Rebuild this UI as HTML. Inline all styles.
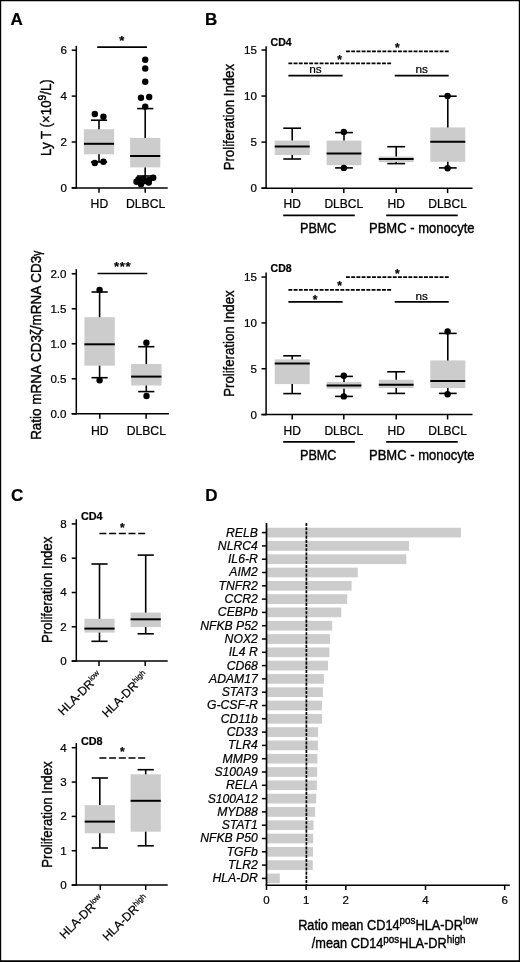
<!DOCTYPE html>
<html><head><meta charset="utf-8"><title>Figure</title>
<style>
html,body{margin:0;padding:0;background:#fff;}
body{width:520px;height:962px;overflow:hidden;position:relative;}
text{stroke:#000;stroke-width:0.22px;}
svg{display:block;position:absolute;left:0;top:0;font-family:'Liberation Sans', sans-serif;fill:#000;}
</style></head><body>
<svg width="520" height="962" viewBox="0 0 520 962" font-family="'Liberation Sans', sans-serif">
<rect x="0" y="0" width="520" height="962" fill="#fff"/>
<text transform="translate(10.60 25.40)" font-size="17" text-anchor="start" font-weight="bold" font-style="normal">A</text>
<text transform="translate(205.10 25.20)" font-size="17" text-anchor="start" font-weight="bold" font-style="normal">B</text>
<text transform="translate(10.90 501.10)" font-size="17" text-anchor="start" font-weight="bold" font-style="normal">C</text>
<text transform="translate(205.20 501.20)" font-size="17" text-anchor="start" font-weight="bold" font-style="normal">D</text>
<line x1="76.30" y1="45.80" x2="76.30" y2="188.65" stroke="#000" stroke-width="1.5"/>
<line x1="71.70" y1="187.90" x2="76.30" y2="187.90" stroke="#000" stroke-width="1.5"/>
<text transform="translate(67.00 191.80)" font-size="11.6" text-anchor="end" font-weight="normal" font-style="normal">0</text>
<line x1="71.70" y1="142.00" x2="76.30" y2="142.00" stroke="#000" stroke-width="1.5"/>
<text transform="translate(67.00 145.90)" font-size="11.6" text-anchor="end" font-weight="normal" font-style="normal">2</text>
<line x1="71.70" y1="96.10" x2="76.30" y2="96.10" stroke="#000" stroke-width="1.5"/>
<text transform="translate(67.00 100.00)" font-size="11.6" text-anchor="end" font-weight="normal" font-style="normal">4</text>
<line x1="71.70" y1="50.20" x2="76.30" y2="50.20" stroke="#000" stroke-width="1.5"/>
<text transform="translate(67.00 54.10)" font-size="11.6" text-anchor="end" font-weight="normal" font-style="normal">6</text>
<line x1="71.70" y1="187.90" x2="167.70" y2="187.90" stroke="#000" stroke-width="1.5"/>
<line x1="99.00" y1="187.90" x2="99.00" y2="192.80" stroke="#000" stroke-width="1.5"/>
<line x1="145.20" y1="187.90" x2="145.20" y2="192.80" stroke="#000" stroke-width="1.5"/>
<text transform="translate(51.30 117.60) rotate(-90) scale(0.882 1)" font-size="15.1" text-anchor="middle" font-weight="normal" font-style="normal" style="stroke-width:0.4px">Ly T (×10<tspan font-size="11.5" dy="-5">9</tspan><tspan dy="5">/L)</tspan></text>
<line x1="97.20" y1="47.10" x2="147.00" y2="47.10" stroke="#000" stroke-width="1.7"/>
<text transform="translate(121.70 45.40)" font-size="13" text-anchor="middle" font-weight="bold" font-style="normal">*</text>
<rect x="83.90" y="129.20" width="30.20" height="25.10" fill="#cccccc"/>
<line x1="99.00" y1="120.20" x2="99.00" y2="129.20" stroke="#000" stroke-width="1.6"/>
<line x1="99.00" y1="154.30" x2="99.00" y2="162.00" stroke="#000" stroke-width="1.6"/>
<line x1="90.90" y1="120.20" x2="107.10" y2="120.20" stroke="#000" stroke-width="1.6"/>
<line x1="90.90" y1="162.00" x2="107.10" y2="162.00" stroke="#000" stroke-width="1.6"/>
<line x1="83.90" y1="143.80" x2="114.10" y2="143.80" stroke="#000" stroke-width="2.0"/>
<circle cx="94.80" cy="114.00" r="3.2" fill="#000"/>
<circle cx="103.40" cy="116.80" r="3.2" fill="#000"/>
<circle cx="94.80" cy="163.00" r="3.2" fill="#000"/>
<circle cx="103.40" cy="161.70" r="3.2" fill="#000"/>
<rect x="130.10" y="137.90" width="30.20" height="29.50" fill="#cccccc"/>
<line x1="145.20" y1="108.60" x2="145.20" y2="137.90" stroke="#000" stroke-width="1.6"/>
<line x1="145.20" y1="167.40" x2="145.20" y2="176.00" stroke="#000" stroke-width="1.6"/>
<line x1="137.10" y1="108.60" x2="153.30" y2="108.60" stroke="#000" stroke-width="1.6"/>
<line x1="137.10" y1="176.00" x2="153.30" y2="176.00" stroke="#000" stroke-width="1.6"/>
<line x1="130.10" y1="156.00" x2="160.30" y2="156.00" stroke="#000" stroke-width="2.0"/>
<circle cx="145.20" cy="59.80" r="3.2" fill="#000"/>
<circle cx="145.20" cy="68.50" r="3.2" fill="#000"/>
<circle cx="145.20" cy="81.70" r="3.2" fill="#000"/>
<circle cx="141.00" cy="97.70" r="3.2" fill="#000"/>
<circle cx="149.20" cy="97.00" r="3.2" fill="#000"/>
<circle cx="145.20" cy="106.60" r="3.2" fill="#000"/>
<circle cx="153.20" cy="177.80" r="3.2" fill="#000"/>
<circle cx="149.00" cy="180.00" r="3.2" fill="#000"/>
<circle cx="143.50" cy="178.80" r="3.2" fill="#000"/>
<circle cx="138.50" cy="179.30" r="3.2" fill="#000"/>
<circle cx="136.50" cy="181.80" r="3.2" fill="#000"/>
<circle cx="148.80" cy="182.50" r="3.2" fill="#000"/>
<circle cx="141.00" cy="184.30" r="3.2" fill="#000"/>
<circle cx="145.00" cy="181.00" r="3.2" fill="#000"/>
<text transform="translate(99.40 207.90)" font-size="12.2" text-anchor="middle" font-weight="normal" font-style="normal">HD</text>
<text transform="translate(145.60 207.90)" font-size="12.2" text-anchor="middle" font-weight="normal" font-style="normal">DLBCL</text>
<line x1="76.30" y1="269.20" x2="76.30" y2="414.55" stroke="#000" stroke-width="1.5"/>
<line x1="71.70" y1="413.80" x2="76.30" y2="413.80" stroke="#000" stroke-width="1.5"/>
<text transform="translate(66.50 417.70)" font-size="11.6" text-anchor="end" font-weight="normal" font-style="normal">0.0</text>
<line x1="71.70" y1="378.80" x2="76.30" y2="378.80" stroke="#000" stroke-width="1.5"/>
<text transform="translate(66.50 382.70)" font-size="11.6" text-anchor="end" font-weight="normal" font-style="normal">0.5</text>
<line x1="71.70" y1="343.80" x2="76.30" y2="343.80" stroke="#000" stroke-width="1.5"/>
<text transform="translate(66.50 347.70)" font-size="11.6" text-anchor="end" font-weight="normal" font-style="normal">1.0</text>
<line x1="71.70" y1="308.80" x2="76.30" y2="308.80" stroke="#000" stroke-width="1.5"/>
<text transform="translate(66.50 312.70)" font-size="11.6" text-anchor="end" font-weight="normal" font-style="normal">1.5</text>
<line x1="71.70" y1="273.80" x2="76.30" y2="273.80" stroke="#000" stroke-width="1.5"/>
<text transform="translate(66.50 277.70)" font-size="11.6" text-anchor="end" font-weight="normal" font-style="normal">2.0</text>
<line x1="71.70" y1="413.80" x2="169.00" y2="413.80" stroke="#000" stroke-width="1.5"/>
<line x1="99.80" y1="413.80" x2="99.80" y2="418.70" stroke="#000" stroke-width="1.5"/>
<line x1="146.10" y1="413.80" x2="146.10" y2="418.70" stroke="#000" stroke-width="1.5"/>
<text transform="translate(40.80 345.20) rotate(-90) scale(0.8925337748344371 1)" font-size="15.1" text-anchor="middle" font-weight="normal" font-style="normal" style="stroke-width:0.4px">Ratio mRNA CD3ζ/mRNA CD3<tspan font-size="12">γ</tspan></text>
<line x1="97.50" y1="273.50" x2="147.30" y2="273.50" stroke="#000" stroke-width="1.7"/>
<text transform="translate(122.60 271.00)" font-size="13" text-anchor="middle" font-weight="bold" font-style="normal" letter-spacing="0.6">***</text>
<rect x="84.40" y="317.20" width="30.40" height="48.50" fill="#cccccc"/>
<line x1="99.60" y1="292.00" x2="99.60" y2="317.20" stroke="#000" stroke-width="1.6"/>
<line x1="99.60" y1="365.70" x2="99.60" y2="377.70" stroke="#000" stroke-width="1.6"/>
<line x1="91.50" y1="292.00" x2="107.70" y2="292.00" stroke="#000" stroke-width="1.6"/>
<line x1="91.50" y1="377.70" x2="107.70" y2="377.70" stroke="#000" stroke-width="1.6"/>
<line x1="84.40" y1="344.30" x2="114.80" y2="344.30" stroke="#000" stroke-width="2.0"/>
<circle cx="99.60" cy="289.90" r="3.2" fill="#000"/>
<circle cx="99.60" cy="380.30" r="3.2" fill="#000"/>
<rect x="131.10" y="364.00" width="30.40" height="21.50" fill="#cccccc"/>
<line x1="146.30" y1="346.70" x2="146.30" y2="364.00" stroke="#000" stroke-width="1.6"/>
<line x1="146.30" y1="385.50" x2="146.30" y2="391.60" stroke="#000" stroke-width="1.6"/>
<line x1="138.20" y1="346.70" x2="154.40" y2="346.70" stroke="#000" stroke-width="1.6"/>
<line x1="138.20" y1="391.60" x2="154.40" y2="391.60" stroke="#000" stroke-width="1.6"/>
<line x1="131.10" y1="376.60" x2="161.50" y2="376.60" stroke="#000" stroke-width="2.0"/>
<circle cx="146.40" cy="342.70" r="3.2" fill="#000"/>
<circle cx="146.50" cy="396.00" r="3.2" fill="#000"/>
<text transform="translate(99.80 434.60)" font-size="12.2" text-anchor="middle" font-weight="normal" font-style="normal">HD</text>
<text transform="translate(146.30 434.60)" font-size="12.2" text-anchor="middle" font-weight="normal" font-style="normal">DLBCL</text>
<g transform="translate(0.2 0.4)">
<line x1="265.90" y1="45.75" x2="265.90" y2="188.50" stroke="#000" stroke-width="1.5"/>
<line x1="261.30" y1="187.75" x2="265.90" y2="187.75" stroke="#000" stroke-width="1.5"/>
<text transform="translate(256.70 191.65)" font-size="11.6" text-anchor="end" font-weight="normal" font-style="normal">0</text>
<line x1="261.30" y1="141.70" x2="265.90" y2="141.70" stroke="#000" stroke-width="1.5"/>
<text transform="translate(256.70 145.60)" font-size="11.6" text-anchor="end" font-weight="normal" font-style="normal">5</text>
<line x1="261.30" y1="95.65" x2="265.90" y2="95.65" stroke="#000" stroke-width="1.5"/>
<text transform="translate(256.70 99.55)" font-size="11.6" text-anchor="end" font-weight="normal" font-style="normal">10</text>
<line x1="261.30" y1="49.60" x2="265.90" y2="49.60" stroke="#000" stroke-width="1.5"/>
<text transform="translate(256.70 53.50)" font-size="11.6" text-anchor="end" font-weight="normal" font-style="normal">15</text>
<line x1="261.30" y1="187.75" x2="472.30" y2="187.75" stroke="#000" stroke-width="1.5"/>
<line x1="292.00" y1="187.75" x2="292.00" y2="192.65" stroke="#000" stroke-width="1.5"/>
<line x1="343.60" y1="187.75" x2="343.60" y2="192.65" stroke="#000" stroke-width="1.5"/>
<line x1="396.00" y1="187.75" x2="396.00" y2="192.65" stroke="#000" stroke-width="1.5"/>
<line x1="447.40" y1="187.75" x2="447.40" y2="192.65" stroke="#000" stroke-width="1.5"/>
<text transform="translate(234.20 116.75) rotate(-90) scale(0.875 1)" font-size="15.1" text-anchor="middle" font-weight="normal" font-style="normal" style="stroke-width:0.4px">Proliferation Index</text>
<text transform="translate(270.40 45.30)" font-size="10.5" text-anchor="start" font-weight="bold" font-style="normal">CD4</text>
<line x1="345.80" y1="51.00" x2="448.50" y2="51.00" stroke="#000" stroke-width="1.75" stroke-dasharray="3.9 1.3"/>
<text transform="translate(397.20 51.50)" font-size="12" text-anchor="middle" font-weight="bold" font-style="normal">*</text>
<line x1="288.20" y1="63.00" x2="391.40" y2="63.00" stroke="#000" stroke-width="1.75" stroke-dasharray="3.9 1.3"/>
<text transform="translate(339.50 63.50)" font-size="12" text-anchor="middle" font-weight="bold" font-style="normal">*</text>
<line x1="288.20" y1="75.20" x2="342.40" y2="75.20" stroke="#000" stroke-width="1.75"/>
<text transform="translate(315.30 72.90)" font-size="11.8" text-anchor="middle" font-weight="normal" font-style="normal">ns</text>
<line x1="394.50" y1="75.20" x2="448.50" y2="75.20" stroke="#000" stroke-width="1.75"/>
<text transform="translate(421.50 72.90)" font-size="11.8" text-anchor="middle" font-weight="normal" font-style="normal">ns</text>
<rect x="274.50" y="140.20" width="35.00" height="14.40" fill="#cccccc"/>
<line x1="292.00" y1="127.80" x2="292.00" y2="140.20" stroke="#000" stroke-width="1.6"/>
<line x1="292.00" y1="154.60" x2="292.00" y2="158.60" stroke="#000" stroke-width="1.6"/>
<line x1="283.10" y1="127.80" x2="300.90" y2="127.80" stroke="#000" stroke-width="1.6"/>
<line x1="283.10" y1="158.60" x2="300.90" y2="158.60" stroke="#000" stroke-width="1.6"/>
<line x1="274.50" y1="146.00" x2="309.50" y2="146.00" stroke="#000" stroke-width="2.0"/>
<rect x="326.40" y="140.20" width="34.80" height="24.60" fill="#cccccc"/>
<line x1="343.80" y1="132.20" x2="343.80" y2="140.20" stroke="#000" stroke-width="1.6"/>
<line x1="343.80" y1="164.80" x2="343.80" y2="167.50" stroke="#000" stroke-width="1.6"/>
<line x1="334.90" y1="132.20" x2="352.70" y2="132.20" stroke="#000" stroke-width="1.6"/>
<line x1="334.90" y1="167.50" x2="352.70" y2="167.50" stroke="#000" stroke-width="1.6"/>
<line x1="326.40" y1="153.00" x2="361.20" y2="153.00" stroke="#000" stroke-width="2.0"/>
<rect x="378.60" y="156.20" width="34.80" height="5.50" fill="#cccccc"/>
<line x1="396.00" y1="146.30" x2="396.00" y2="156.20" stroke="#000" stroke-width="1.6"/>
<line x1="396.00" y1="161.70" x2="396.00" y2="163.20" stroke="#000" stroke-width="1.6"/>
<line x1="387.10" y1="146.30" x2="404.90" y2="146.30" stroke="#000" stroke-width="1.6"/>
<line x1="387.10" y1="163.20" x2="404.90" y2="163.20" stroke="#000" stroke-width="1.6"/>
<line x1="378.60" y1="158.60" x2="413.40" y2="158.60" stroke="#000" stroke-width="2.0"/>
<rect x="430.10" y="127.00" width="35.00" height="34.40" fill="#cccccc"/>
<line x1="447.60" y1="95.80" x2="447.60" y2="127.00" stroke="#000" stroke-width="1.6"/>
<line x1="447.60" y1="161.40" x2="447.60" y2="167.50" stroke="#000" stroke-width="1.6"/>
<line x1="438.70" y1="95.80" x2="456.50" y2="95.80" stroke="#000" stroke-width="1.6"/>
<line x1="438.70" y1="167.50" x2="456.50" y2="167.50" stroke="#000" stroke-width="1.6"/>
<line x1="430.10" y1="141.40" x2="465.10" y2="141.40" stroke="#000" stroke-width="2.0"/>
<circle cx="343.60" cy="131.50" r="3.2" fill="#000"/>
<circle cx="343.60" cy="167.50" r="3.2" fill="#000"/>
<circle cx="447.40" cy="95.50" r="3.2" fill="#000"/>
<circle cx="447.40" cy="167.80" r="3.2" fill="#000"/>
<text transform="translate(292.00 207.70)" font-size="12" text-anchor="middle" font-weight="normal" font-style="normal">HD</text>
<text transform="translate(343.60 207.70)" font-size="12" text-anchor="middle" font-weight="normal" font-style="normal">DLBCL</text>
<text transform="translate(396.00 207.70)" font-size="12" text-anchor="middle" font-weight="normal" font-style="normal">HD</text>
<text transform="translate(447.40 207.70)" font-size="12" text-anchor="middle" font-weight="normal" font-style="normal">DLBCL</text>
<line x1="283.00" y1="215.00" x2="354.60" y2="215.00" stroke="#000" stroke-width="1.9"/>
<line x1="386.00" y1="215.00" x2="457.50" y2="215.00" stroke="#000" stroke-width="1.9"/>
<text transform="translate(318.00 232.80) scale(0.866 1)" font-size="14.6" text-anchor="middle" font-weight="normal" font-style="normal" style="stroke-width:0.4px">PBMC</text>
<text transform="translate(421.60 232.80) scale(0.892 1)" font-size="14.6" text-anchor="middle" font-weight="normal" font-style="normal" style="stroke-width:0.4px">PBMC - monocyte</text>
</g>
<g transform="translate(0.2 0.4)">
<line x1="265.90" y1="272.20" x2="265.90" y2="414.95" stroke="#000" stroke-width="1.5"/>
<line x1="261.30" y1="414.20" x2="265.90" y2="414.20" stroke="#000" stroke-width="1.5"/>
<text transform="translate(256.70 418.10)" font-size="11.6" text-anchor="end" font-weight="normal" font-style="normal">0</text>
<line x1="261.30" y1="368.35" x2="265.90" y2="368.35" stroke="#000" stroke-width="1.5"/>
<text transform="translate(256.70 372.25)" font-size="11.6" text-anchor="end" font-weight="normal" font-style="normal">5</text>
<line x1="261.30" y1="322.50" x2="265.90" y2="322.50" stroke="#000" stroke-width="1.5"/>
<text transform="translate(256.70 326.40)" font-size="11.6" text-anchor="end" font-weight="normal" font-style="normal">10</text>
<line x1="261.30" y1="276.65" x2="265.90" y2="276.65" stroke="#000" stroke-width="1.5"/>
<text transform="translate(256.70 280.55)" font-size="11.6" text-anchor="end" font-weight="normal" font-style="normal">15</text>
<line x1="261.30" y1="414.20" x2="472.30" y2="414.20" stroke="#000" stroke-width="1.5"/>
<line x1="292.00" y1="414.20" x2="292.00" y2="419.10" stroke="#000" stroke-width="1.5"/>
<line x1="343.60" y1="414.20" x2="343.60" y2="419.10" stroke="#000" stroke-width="1.5"/>
<line x1="396.00" y1="414.20" x2="396.00" y2="419.10" stroke="#000" stroke-width="1.5"/>
<line x1="447.40" y1="414.20" x2="447.40" y2="419.10" stroke="#000" stroke-width="1.5"/>
<text transform="translate(234.20 343.20) rotate(-90) scale(0.875 1)" font-size="15.1" text-anchor="middle" font-weight="normal" font-style="normal" style="stroke-width:0.4px">Proliferation Index</text>
<text transform="translate(270.40 271.50)" font-size="10.5" text-anchor="start" font-weight="bold" font-style="normal">CD8</text>
<line x1="345.80" y1="276.80" x2="448.50" y2="276.80" stroke="#000" stroke-width="1.75" stroke-dasharray="3.9 1.3"/>
<text transform="translate(397.20 277.30)" font-size="12" text-anchor="middle" font-weight="bold" font-style="normal">*</text>
<line x1="288.20" y1="289.40" x2="391.40" y2="289.40" stroke="#000" stroke-width="1.75" stroke-dasharray="3.9 1.3"/>
<text transform="translate(339.50 289.90)" font-size="12" text-anchor="middle" font-weight="bold" font-style="normal">*</text>
<line x1="288.20" y1="301.40" x2="342.40" y2="301.40" stroke="#000" stroke-width="1.75"/>
<text transform="translate(315.00 303.30)" font-size="12" text-anchor="middle" font-weight="bold" font-style="normal">*</text>
<line x1="394.50" y1="301.40" x2="448.50" y2="301.40" stroke="#000" stroke-width="1.75"/>
<text transform="translate(421.50 299.10)" font-size="11.8" text-anchor="middle" font-weight="normal" font-style="normal">ns</text>
<rect x="274.50" y="359.00" width="35.00" height="24.70" fill="#cccccc"/>
<line x1="292.00" y1="355.40" x2="292.00" y2="359.00" stroke="#000" stroke-width="1.6"/>
<line x1="292.00" y1="383.70" x2="292.00" y2="393.20" stroke="#000" stroke-width="1.6"/>
<line x1="283.10" y1="355.40" x2="300.90" y2="355.40" stroke="#000" stroke-width="1.6"/>
<line x1="283.10" y1="393.20" x2="300.90" y2="393.20" stroke="#000" stroke-width="1.6"/>
<line x1="274.50" y1="363.00" x2="309.50" y2="363.00" stroke="#000" stroke-width="2.0"/>
<rect x="326.40" y="381.50" width="34.80" height="6.80" fill="#cccccc"/>
<line x1="343.80" y1="376.00" x2="343.80" y2="381.50" stroke="#000" stroke-width="1.6"/>
<line x1="343.80" y1="388.30" x2="343.80" y2="396.00" stroke="#000" stroke-width="1.6"/>
<line x1="334.90" y1="376.00" x2="352.70" y2="376.00" stroke="#000" stroke-width="1.6"/>
<line x1="334.90" y1="396.00" x2="352.70" y2="396.00" stroke="#000" stroke-width="1.6"/>
<line x1="326.40" y1="385.00" x2="361.20" y2="385.00" stroke="#000" stroke-width="2.0"/>
<rect x="378.60" y="379.40" width="34.80" height="8.30" fill="#cccccc"/>
<line x1="396.00" y1="371.40" x2="396.00" y2="379.40" stroke="#000" stroke-width="1.6"/>
<line x1="396.00" y1="387.70" x2="396.00" y2="393.00" stroke="#000" stroke-width="1.6"/>
<line x1="387.10" y1="371.40" x2="404.90" y2="371.40" stroke="#000" stroke-width="1.6"/>
<line x1="387.10" y1="393.00" x2="404.90" y2="393.00" stroke="#000" stroke-width="1.6"/>
<line x1="378.60" y1="384.30" x2="413.40" y2="384.30" stroke="#000" stroke-width="2.0"/>
<rect x="430.10" y="360.00" width="35.00" height="27.70" fill="#cccccc"/>
<line x1="447.60" y1="333.00" x2="447.60" y2="360.00" stroke="#000" stroke-width="1.6"/>
<line x1="447.60" y1="387.70" x2="447.60" y2="393.00" stroke="#000" stroke-width="1.6"/>
<line x1="438.70" y1="333.00" x2="456.50" y2="333.00" stroke="#000" stroke-width="1.6"/>
<line x1="438.70" y1="393.00" x2="456.50" y2="393.00" stroke="#000" stroke-width="1.6"/>
<line x1="430.10" y1="380.60" x2="465.10" y2="380.60" stroke="#000" stroke-width="2.0"/>
<circle cx="343.60" cy="375.40" r="3.2" fill="#000"/>
<circle cx="343.60" cy="396.00" r="3.2" fill="#000"/>
<circle cx="447.40" cy="331.00" r="3.2" fill="#000"/>
<circle cx="447.40" cy="393.80" r="3.2" fill="#000"/>
<text transform="translate(292.00 434.20)" font-size="12" text-anchor="middle" font-weight="normal" font-style="normal">HD</text>
<text transform="translate(343.60 434.20)" font-size="12" text-anchor="middle" font-weight="normal" font-style="normal">DLBCL</text>
<text transform="translate(396.00 434.20)" font-size="12" text-anchor="middle" font-weight="normal" font-style="normal">HD</text>
<text transform="translate(447.40 434.20)" font-size="12" text-anchor="middle" font-weight="normal" font-style="normal">DLBCL</text>
<line x1="283.00" y1="441.50" x2="354.60" y2="441.50" stroke="#000" stroke-width="1.9"/>
<line x1="386.00" y1="441.50" x2="457.50" y2="441.50" stroke="#000" stroke-width="1.9"/>
<text transform="translate(318.00 459.30) scale(0.866 1)" font-size="14.6" text-anchor="middle" font-weight="normal" font-style="normal" style="stroke-width:0.4px">PBMC</text>
<text transform="translate(421.60 459.30) scale(0.892 1)" font-size="14.6" text-anchor="middle" font-weight="normal" font-style="normal" style="stroke-width:0.4px">PBMC - monocyte</text>
</g>
<g transform="translate(0 0.3)">
<line x1="76.30" y1="518.90" x2="76.30" y2="661.55" stroke="#000" stroke-width="1.5"/>
<line x1="71.70" y1="660.80" x2="76.30" y2="660.80" stroke="#000" stroke-width="1.5"/>
<text transform="translate(66.60 664.70)" font-size="11.6" text-anchor="end" font-weight="normal" font-style="normal">0</text>
<line x1="71.70" y1="626.50" x2="76.30" y2="626.50" stroke="#000" stroke-width="1.5"/>
<text transform="translate(66.60 630.40)" font-size="11.6" text-anchor="end" font-weight="normal" font-style="normal">2</text>
<line x1="71.70" y1="592.20" x2="76.30" y2="592.20" stroke="#000" stroke-width="1.5"/>
<text transform="translate(66.60 596.10)" font-size="11.6" text-anchor="end" font-weight="normal" font-style="normal">4</text>
<line x1="71.70" y1="557.90" x2="76.30" y2="557.90" stroke="#000" stroke-width="1.5"/>
<text transform="translate(66.60 561.80)" font-size="11.6" text-anchor="end" font-weight="normal" font-style="normal">6</text>
<line x1="71.70" y1="523.60" x2="76.30" y2="523.60" stroke="#000" stroke-width="1.5"/>
<text transform="translate(66.60 527.50)" font-size="11.6" text-anchor="end" font-weight="normal" font-style="normal">8</text>
<line x1="71.70" y1="660.80" x2="167.70" y2="660.80" stroke="#000" stroke-width="1.5"/>
<line x1="99.00" y1="660.80" x2="99.00" y2="665.70" stroke="#000" stroke-width="1.5"/>
<line x1="145.20" y1="660.80" x2="145.20" y2="665.70" stroke="#000" stroke-width="1.5"/>
<text transform="translate(51.60 589.60) rotate(-90) scale(0.875 1)" font-size="15.1" text-anchor="middle" font-weight="normal" font-style="normal" style="stroke-width:0.4px">Proliferation Index</text>
<text transform="translate(81.00 519.60)" font-size="10.8" text-anchor="start" font-weight="bold" font-style="normal">CD4</text>
<line x1="99.40" y1="533.20" x2="145.80" y2="533.20" stroke="#000" stroke-width="1.7" stroke-dasharray="7 2.7"/>
<text transform="translate(122.30 531.60)" font-size="12" text-anchor="middle" font-weight="bold" font-style="normal">*</text>
<rect x="84.40" y="618.50" width="30.20" height="13.80" fill="#cccccc"/>
<line x1="99.50" y1="563.70" x2="99.50" y2="618.50" stroke="#000" stroke-width="1.6"/>
<line x1="99.50" y1="632.30" x2="99.50" y2="641.00" stroke="#000" stroke-width="1.6"/>
<line x1="91.40" y1="563.70" x2="107.60" y2="563.70" stroke="#000" stroke-width="1.6"/>
<line x1="91.40" y1="641.00" x2="107.60" y2="641.00" stroke="#000" stroke-width="1.6"/>
<line x1="84.40" y1="628.30" x2="114.60" y2="628.30" stroke="#000" stroke-width="2.0"/>
<rect x="130.60" y="612.30" width="30.20" height="14.50" fill="#cccccc"/>
<line x1="145.70" y1="554.80" x2="145.70" y2="612.30" stroke="#000" stroke-width="1.6"/>
<line x1="145.70" y1="626.80" x2="145.70" y2="633.50" stroke="#000" stroke-width="1.6"/>
<line x1="137.60" y1="554.80" x2="153.80" y2="554.80" stroke="#000" stroke-width="1.6"/>
<line x1="137.60" y1="633.50" x2="153.80" y2="633.50" stroke="#000" stroke-width="1.6"/>
<line x1="130.60" y1="619.00" x2="160.80" y2="619.00" stroke="#000" stroke-width="2.0"/>
<text transform="translate(102.70 676.00) rotate(-45)" font-size="12" text-anchor="end" font-weight="normal" font-style="normal">HLA-DR<tspan font-size="7.6" dy="-4.3">low</tspan></text>
<text transform="translate(148.70 676.00) rotate(-45)" font-size="12" text-anchor="end" font-weight="normal" font-style="normal">HLA-DR<tspan font-size="7.6" dy="-4.3">high</tspan></text>
<line x1="76.30" y1="742.70" x2="76.30" y2="885.55" stroke="#000" stroke-width="1.5"/>
<line x1="71.70" y1="884.80" x2="76.30" y2="884.80" stroke="#000" stroke-width="1.5"/>
<text transform="translate(66.60 888.70)" font-size="11.6" text-anchor="end" font-weight="normal" font-style="normal">0</text>
<line x1="71.70" y1="850.45" x2="76.30" y2="850.45" stroke="#000" stroke-width="1.5"/>
<text transform="translate(66.60 854.35)" font-size="11.6" text-anchor="end" font-weight="normal" font-style="normal">1</text>
<line x1="71.70" y1="816.10" x2="76.30" y2="816.10" stroke="#000" stroke-width="1.5"/>
<text transform="translate(66.60 820.00)" font-size="11.6" text-anchor="end" font-weight="normal" font-style="normal">2</text>
<line x1="71.70" y1="781.75" x2="76.30" y2="781.75" stroke="#000" stroke-width="1.5"/>
<text transform="translate(66.60 785.65)" font-size="11.6" text-anchor="end" font-weight="normal" font-style="normal">3</text>
<line x1="71.70" y1="747.40" x2="76.30" y2="747.40" stroke="#000" stroke-width="1.5"/>
<text transform="translate(66.60 751.30)" font-size="11.6" text-anchor="end" font-weight="normal" font-style="normal">4</text>
<line x1="71.70" y1="884.80" x2="167.70" y2="884.80" stroke="#000" stroke-width="1.5"/>
<line x1="100.30" y1="884.80" x2="100.30" y2="889.70" stroke="#000" stroke-width="1.5"/>
<line x1="145.70" y1="884.80" x2="145.70" y2="889.70" stroke="#000" stroke-width="1.5"/>
<text transform="translate(51.60 814.30) rotate(-90) scale(0.875 1)" font-size="15.1" text-anchor="middle" font-weight="normal" font-style="normal" style="stroke-width:0.4px">Proliferation Index</text>
<text transform="translate(81.00 744.40)" font-size="10.8" text-anchor="start" font-weight="bold" font-style="normal">CD8</text>
<line x1="99.40" y1="757.70" x2="145.80" y2="757.70" stroke="#000" stroke-width="1.7" stroke-dasharray="7 2.7"/>
<text transform="translate(122.30 756.10)" font-size="12" text-anchor="middle" font-weight="bold" font-style="normal">*</text>
<rect x="84.70" y="804.80" width="30.20" height="28.20" fill="#cccccc"/>
<line x1="99.80" y1="777.70" x2="99.80" y2="804.80" stroke="#000" stroke-width="1.6"/>
<line x1="99.80" y1="833.00" x2="99.80" y2="847.70" stroke="#000" stroke-width="1.6"/>
<line x1="91.70" y1="777.70" x2="107.90" y2="777.70" stroke="#000" stroke-width="1.6"/>
<line x1="91.70" y1="847.70" x2="107.90" y2="847.70" stroke="#000" stroke-width="1.6"/>
<line x1="84.70" y1="821.30" x2="114.90" y2="821.30" stroke="#000" stroke-width="2.0"/>
<rect x="130.60" y="774.00" width="30.20" height="57.40" fill="#cccccc"/>
<line x1="145.70" y1="769.40" x2="145.70" y2="774.00" stroke="#000" stroke-width="1.6"/>
<line x1="145.70" y1="831.40" x2="145.70" y2="845.50" stroke="#000" stroke-width="1.6"/>
<line x1="137.60" y1="769.40" x2="153.80" y2="769.40" stroke="#000" stroke-width="1.6"/>
<line x1="137.60" y1="845.50" x2="153.80" y2="845.50" stroke="#000" stroke-width="1.6"/>
<line x1="130.60" y1="800.50" x2="160.80" y2="800.50" stroke="#000" stroke-width="2.0"/>
<text transform="translate(104.10 899.50) rotate(-45)" font-size="12" text-anchor="end" font-weight="normal" font-style="normal">HLA-DR<tspan font-size="7.6" dy="-4.3">low</tspan></text>
<text transform="translate(149.20 899.50) rotate(-45)" font-size="12" text-anchor="end" font-weight="normal" font-style="normal">HLA-DR<tspan font-size="7.6" dy="-4.3">high</tspan></text>
</g>
<rect x="266.50" y="527.75" width="194.50" height="9.70" fill="#cccccc"/>
<line x1="261.90" y1="532.60" x2="266.50" y2="532.60" stroke="#000" stroke-width="1.5"/>
<text transform="translate(257.80 536.50)" font-size="12.2" text-anchor="end" font-weight="normal" font-style="italic">RELB</text>
<rect x="266.50" y="541.05" width="142.50" height="9.70" fill="#cccccc"/>
<line x1="261.90" y1="545.90" x2="266.50" y2="545.90" stroke="#000" stroke-width="1.5"/>
<text transform="translate(257.80 549.80)" font-size="12.2" text-anchor="end" font-weight="normal" font-style="italic">NLRC4</text>
<rect x="266.50" y="554.35" width="139.80" height="9.70" fill="#cccccc"/>
<line x1="261.90" y1="559.20" x2="266.50" y2="559.20" stroke="#000" stroke-width="1.5"/>
<text transform="translate(257.80 563.10)" font-size="12.2" text-anchor="end" font-weight="normal" font-style="italic">IL6-R</text>
<rect x="266.50" y="567.65" width="91.30" height="9.70" fill="#cccccc"/>
<line x1="261.90" y1="572.50" x2="266.50" y2="572.50" stroke="#000" stroke-width="1.5"/>
<text transform="translate(257.80 576.40)" font-size="12.2" text-anchor="end" font-weight="normal" font-style="italic">AIM2</text>
<rect x="266.50" y="580.95" width="85.10" height="9.70" fill="#cccccc"/>
<line x1="261.90" y1="585.80" x2="266.50" y2="585.80" stroke="#000" stroke-width="1.5"/>
<text transform="translate(257.80 589.70)" font-size="12.2" text-anchor="end" font-weight="normal" font-style="italic">TNFR2</text>
<rect x="266.50" y="594.25" width="80.70" height="9.70" fill="#cccccc"/>
<line x1="261.90" y1="599.10" x2="266.50" y2="599.10" stroke="#000" stroke-width="1.5"/>
<text transform="translate(257.80 603.00)" font-size="12.2" text-anchor="end" font-weight="normal" font-style="italic">CCR2</text>
<rect x="266.50" y="607.55" width="74.80" height="9.70" fill="#cccccc"/>
<line x1="261.90" y1="612.40" x2="266.50" y2="612.40" stroke="#000" stroke-width="1.5"/>
<text transform="translate(257.80 616.30)" font-size="12.2" text-anchor="end" font-weight="normal" font-style="italic">CEBPb</text>
<rect x="266.50" y="620.85" width="65.70" height="9.70" fill="#cccccc"/>
<line x1="261.90" y1="625.70" x2="266.50" y2="625.70" stroke="#000" stroke-width="1.5"/>
<text transform="translate(257.80 629.60)" font-size="12.2" text-anchor="end" font-weight="normal" font-style="italic">NFKB P52</text>
<rect x="266.50" y="634.15" width="63.50" height="9.70" fill="#cccccc"/>
<line x1="261.90" y1="639.00" x2="266.50" y2="639.00" stroke="#000" stroke-width="1.5"/>
<text transform="translate(257.80 642.90)" font-size="12.2" text-anchor="end" font-weight="normal" font-style="italic">NOX2</text>
<rect x="266.50" y="647.45" width="62.90" height="9.70" fill="#cccccc"/>
<line x1="261.90" y1="652.30" x2="266.50" y2="652.30" stroke="#000" stroke-width="1.5"/>
<text transform="translate(257.80 656.20)" font-size="12.2" text-anchor="end" font-weight="normal" font-style="italic">IL4 R</text>
<rect x="266.50" y="660.75" width="61.50" height="9.70" fill="#cccccc"/>
<line x1="261.90" y1="665.60" x2="266.50" y2="665.60" stroke="#000" stroke-width="1.5"/>
<text transform="translate(257.80 669.50)" font-size="12.2" text-anchor="end" font-weight="normal" font-style="italic">CD68</text>
<rect x="266.50" y="674.05" width="57.40" height="9.70" fill="#cccccc"/>
<line x1="261.90" y1="678.90" x2="266.50" y2="678.90" stroke="#000" stroke-width="1.5"/>
<text transform="translate(257.80 682.80)" font-size="12.2" text-anchor="end" font-weight="normal" font-style="italic">ADAM17</text>
<rect x="266.50" y="687.35" width="56.40" height="9.70" fill="#cccccc"/>
<line x1="261.90" y1="692.20" x2="266.50" y2="692.20" stroke="#000" stroke-width="1.5"/>
<text transform="translate(257.80 696.10)" font-size="12.2" text-anchor="end" font-weight="normal" font-style="italic">STAT3</text>
<rect x="266.50" y="700.65" width="55.50" height="9.70" fill="#cccccc"/>
<line x1="261.90" y1="705.50" x2="266.50" y2="705.50" stroke="#000" stroke-width="1.5"/>
<text transform="translate(257.80 709.40)" font-size="12.2" text-anchor="end" font-weight="normal" font-style="italic">G-CSF-R</text>
<rect x="266.50" y="713.95" width="55.60" height="9.70" fill="#cccccc"/>
<line x1="261.90" y1="718.80" x2="266.50" y2="718.80" stroke="#000" stroke-width="1.5"/>
<text transform="translate(257.80 722.70)" font-size="12.2" text-anchor="end" font-weight="normal" font-style="italic">CD11b</text>
<rect x="266.50" y="727.25" width="51.60" height="9.70" fill="#cccccc"/>
<line x1="261.90" y1="732.10" x2="266.50" y2="732.10" stroke="#000" stroke-width="1.5"/>
<text transform="translate(257.80 736.00)" font-size="12.2" text-anchor="end" font-weight="normal" font-style="italic">CD33</text>
<rect x="266.50" y="740.55" width="51.40" height="9.70" fill="#cccccc"/>
<line x1="261.90" y1="745.40" x2="266.50" y2="745.40" stroke="#000" stroke-width="1.5"/>
<text transform="translate(257.80 749.30)" font-size="12.2" text-anchor="end" font-weight="normal" font-style="italic">TLR4</text>
<rect x="266.50" y="753.85" width="50.90" height="9.70" fill="#cccccc"/>
<line x1="261.90" y1="758.70" x2="266.50" y2="758.70" stroke="#000" stroke-width="1.5"/>
<text transform="translate(257.80 762.60)" font-size="12.2" text-anchor="end" font-weight="normal" font-style="italic">MMP9</text>
<rect x="266.50" y="767.15" width="50.70" height="9.70" fill="#cccccc"/>
<line x1="261.90" y1="772.00" x2="266.50" y2="772.00" stroke="#000" stroke-width="1.5"/>
<text transform="translate(257.80 775.90)" font-size="12.2" text-anchor="end" font-weight="normal" font-style="italic">S100A9</text>
<rect x="266.50" y="780.45" width="50.40" height="9.70" fill="#cccccc"/>
<line x1="261.90" y1="785.30" x2="266.50" y2="785.30" stroke="#000" stroke-width="1.5"/>
<text transform="translate(257.80 789.20)" font-size="12.2" text-anchor="end" font-weight="normal" font-style="italic">RELA</text>
<rect x="266.50" y="793.75" width="49.70" height="9.70" fill="#cccccc"/>
<line x1="261.90" y1="798.60" x2="266.50" y2="798.60" stroke="#000" stroke-width="1.5"/>
<text transform="translate(257.80 802.50)" font-size="12.2" text-anchor="end" font-weight="normal" font-style="italic">S100A12</text>
<rect x="266.50" y="807.05" width="48.60" height="9.70" fill="#cccccc"/>
<line x1="261.90" y1="811.90" x2="266.50" y2="811.90" stroke="#000" stroke-width="1.5"/>
<text transform="translate(257.80 815.80)" font-size="12.2" text-anchor="end" font-weight="normal" font-style="italic">MYD88</text>
<rect x="266.50" y="820.35" width="47.00" height="9.70" fill="#cccccc"/>
<line x1="261.90" y1="825.20" x2="266.50" y2="825.20" stroke="#000" stroke-width="1.5"/>
<text transform="translate(257.80 829.10)" font-size="12.2" text-anchor="end" font-weight="normal" font-style="italic">STAT1</text>
<rect x="266.50" y="833.65" width="46.70" height="9.70" fill="#cccccc"/>
<line x1="261.90" y1="838.50" x2="266.50" y2="838.50" stroke="#000" stroke-width="1.5"/>
<text transform="translate(257.80 842.40)" font-size="12.2" text-anchor="end" font-weight="normal" font-style="italic">NFKB P50</text>
<rect x="266.50" y="846.95" width="46.50" height="9.70" fill="#cccccc"/>
<line x1="261.90" y1="851.80" x2="266.50" y2="851.80" stroke="#000" stroke-width="1.5"/>
<text transform="translate(257.80 855.70)" font-size="12.2" text-anchor="end" font-weight="normal" font-style="italic">TGFb</text>
<rect x="266.50" y="860.25" width="46.30" height="9.70" fill="#cccccc"/>
<line x1="261.90" y1="865.10" x2="266.50" y2="865.10" stroke="#000" stroke-width="1.5"/>
<text transform="translate(257.80 869.00)" font-size="12.2" text-anchor="end" font-weight="normal" font-style="italic">TLR2</text>
<rect x="266.50" y="873.55" width="13.30" height="9.70" fill="#cccccc"/>
<line x1="261.90" y1="878.40" x2="266.50" y2="878.40" stroke="#000" stroke-width="1.5"/>
<text transform="translate(257.80 882.30)" font-size="12.2" text-anchor="end" font-weight="normal" font-style="italic">HLA-DR</text>
<line x1="266.50" y1="523.00" x2="266.50" y2="885.20" stroke="#000" stroke-width="1.7"/>
<line x1="265.65" y1="885.20" x2="509.80" y2="885.20" stroke="#000" stroke-width="1.6"/>
<line x1="266.50" y1="885.20" x2="266.50" y2="889.90" stroke="#000" stroke-width="1.5"/>
<text transform="translate(266.50 903.90)" font-size="11.5" text-anchor="middle" font-weight="normal" font-style="normal">0</text>
<line x1="306.10" y1="885.20" x2="306.10" y2="889.90" stroke="#000" stroke-width="1.5"/>
<text transform="translate(306.10 903.90)" font-size="11.5" text-anchor="middle" font-weight="normal" font-style="normal">1</text>
<line x1="345.80" y1="885.20" x2="345.80" y2="889.90" stroke="#000" stroke-width="1.5"/>
<text transform="translate(345.80 903.90)" font-size="11.5" text-anchor="middle" font-weight="normal" font-style="normal">2</text>
<line x1="425.50" y1="885.20" x2="425.50" y2="889.90" stroke="#000" stroke-width="1.5"/>
<text transform="translate(425.50 903.90)" font-size="11.5" text-anchor="middle" font-weight="normal" font-style="normal">4</text>
<line x1="504.70" y1="885.20" x2="504.70" y2="889.90" stroke="#000" stroke-width="1.5"/>
<text transform="translate(504.70 903.90)" font-size="11.5" text-anchor="middle" font-weight="normal" font-style="normal">6</text>
<line x1="306.40" y1="523.00" x2="306.40" y2="885.20" stroke="#000" stroke-width="1.7" stroke-dasharray="3.1 1.1"/>
<text transform="translate(388.00 929.50) scale(0.875 1)" font-size="14.6" text-anchor="middle" font-weight="normal" font-style="normal" style="stroke-width:0.4px">Ratio mean CD14<tspan font-size="11.3" dy="-5.5">pos</tspan><tspan dy="5.5">HLA-DR</tspan><tspan font-size="11.3" dy="-5.5">low</tspan></text>
<text transform="translate(388.60 948.20) scale(0.875 1)" font-size="14.6" text-anchor="middle" font-weight="normal" font-style="normal" style="stroke-width:0.4px">/mean CD14<tspan font-size="11.3" dy="-5.5">pos</tspan><tspan dy="5.5">HLA-DR</tspan><tspan font-size="11.3" dy="-5.5">high</tspan></text>
<path d="M0.6 0.6H519.4V961H0.6Z" fill="none" stroke="#000" stroke-width="1.2"/>
<line x1="0" y1="961.2" x2="520" y2="961.2" stroke="#000" stroke-width="1.6"/>
</svg>
</body></html>
